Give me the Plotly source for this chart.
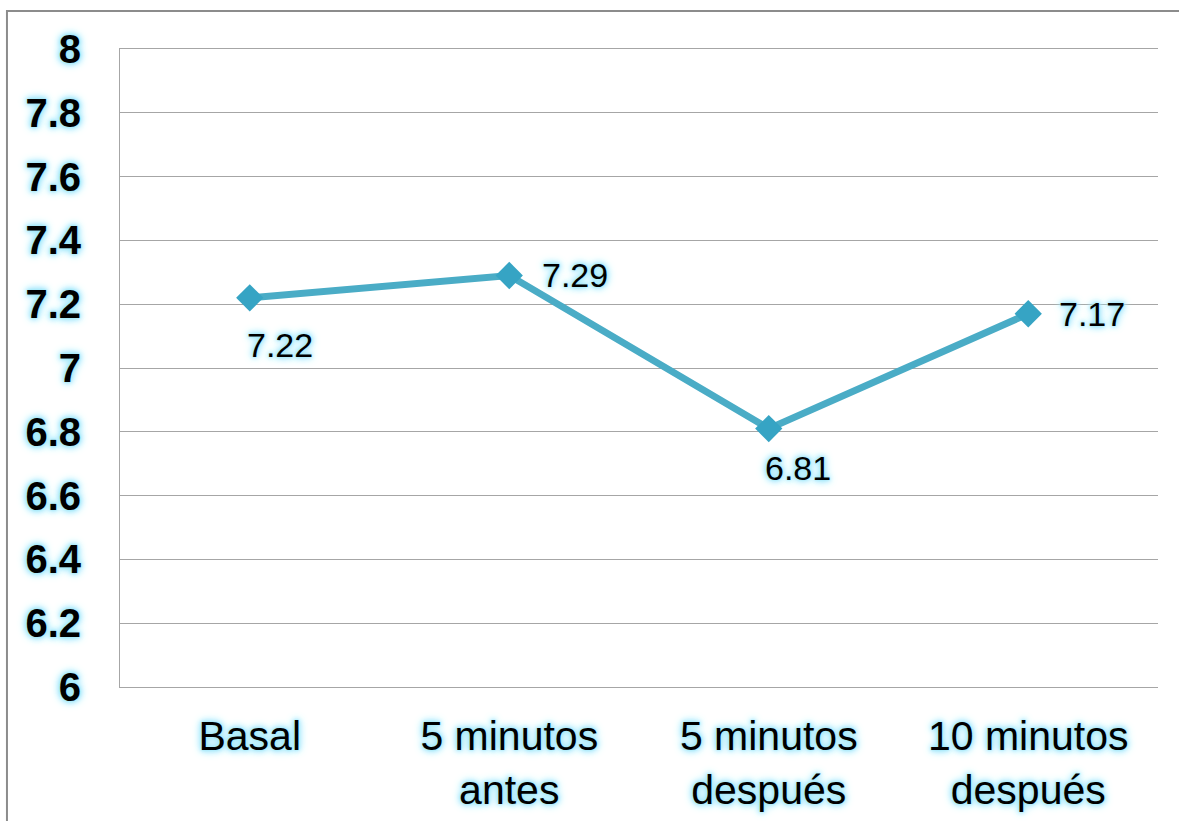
import plotly.graph_objects as go

# pH readings over the four sampling moments
categories = ["Basal", "5 minutos<br>antes", "5 minutos<br>después", "10 minutos<br>después"]
ph_values = [7.22, 7.29, 6.81, 7.17]
y_ticks = [6, 6.2, 6.4, 6.6, 6.8, 7, 7.2, 7.4, 7.6, 7.8, 8]

# label offsets (pixels) relative to each point
label_shift_x = [30, 66, 29, 64]
label_shift_y = [-47, 0, -39, 0]

LINE_COLOR = "#4aacc6"
MARKER_COLOR = "#36a4c4"
GLOW = ("0px 0px 2px #9fe7fa, 0px 0px 4px #9fe7fa, 0px 0px 6px #9fe7fa, "
        "0px 0px 8px #a8eafb, 0px 0px 11px #b8f0fc")
FONT = "Liberation Sans, Arial, sans-serif"
GRID = "#a6a6a6"

fig = go.Figure()
fig.add_trace(go.Scatter(
    x=categories,
    y=ph_values,
    mode="lines+markers",
    line=dict(color=LINE_COLOR, width=7),
    marker=dict(symbol="diamond", size=21, color=MARKER_COLOR,
                line=dict(width=0)),
    hoverinfo="skip",
    showlegend=False,
))

for cat, val, dx, dy in zip(categories, ph_values, label_shift_x, label_shift_y):
    fig.add_annotation(
        x=cat, y=val, text=f"{val:.2f}", showarrow=False,
        xshift=dx, yshift=dy,
        font=dict(family=FONT, size=34, color="#000000", shadow=GLOW),
    )

# outer chart border
fig.add_shape(type="rect", xref="paper", yref="paper",
              x0=-0.1089, x1=1.1, y0=-0.3, y1=1.0596,
              line=dict(color="#8c8c8c", width=2), fillcolor="rgba(0,0,0,0)",
              layer="below")

fig.update_layout(
    width=1179, height=821,
    margin=dict(l=120, r=21, t=49, b=134),
    paper_bgcolor="#ffffff",
    plot_bgcolor="#ffffff",
    font=dict(family=FONT, color="#000000"),
    xaxis=dict(
        type="category",
        range=[-0.5, 3.5],
        showgrid=False,
        showline=True, linecolor=GRID, linewidth=1, mirror=True,
        ticks="", zeroline=False, automargin=False,
        tickfont=dict(family=FONT, size=41, color="#000000", shadow=GLOW),
        ticklabelstandoff=13,
    ),
    yaxis=dict(
        range=[6, 8],
        tickvals=y_ticks,
        ticktext=[f"{v:g}" for v in y_ticks],
        showgrid=True, gridcolor=GRID, gridwidth=1,
        showline=True, linecolor=GRID, linewidth=1,
        zeroline=False, ticks="", automargin=False,
        tickfont=dict(family=FONT, size=40, color="#000000",
                      weight="bold", shadow=GLOW),
        ticklabelstandoff=30,
    ),
)

fig.write_html("out.html")
